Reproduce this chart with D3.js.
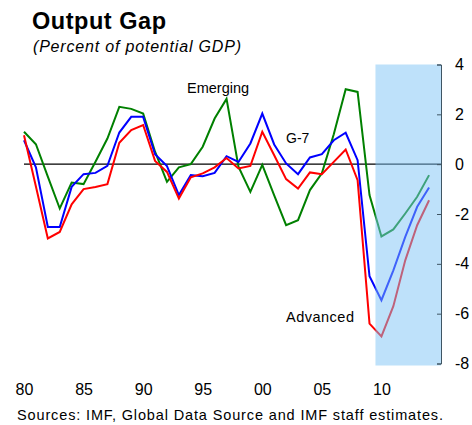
<!DOCTYPE html>
<html>
<head>
<meta charset="utf-8">
<script src="https://cdn.jsdelivr.net/npm/d3@7"></script>
<style>
  body { margin: 0; background: #fff; }
  text { font-family: "Liberation Sans", Arial, sans-serif; }
</style>
</head>
<body>
<script>
// years 1980-2014
const years = d3.range(1980, 2015);
const advanced = [1.16, -0.9, -2.98, -2.72, -1.61, -1.0, -0.92, -0.8, 0.86, 1.37,
  1.57, 0.13, -0.31, -1.38, -0.53, -0.37, -0.13, 0.25, -0.17, -0.07,
  1.3, 0.36, -0.6, -0.98, -0.33, -0.4, 0.09, 0.59, -0.64, -6.4,
  -6.91, -5.7, -3.86, -2.45, -1.45];
const g7 = [0.96, -0.13, -2.52, -2.52, -0.91, -0.4, -0.35, -0.07, 1.27, 1.9,
  1.9, 0.4, -0.08, -1.24, -0.44, -0.48, -0.35, 0.32, 0.09, 0.83,
  2.03, 0.79, 0.03, -0.4, 0.27, 0.4, 0.96, 1.26, 0.16, -4.5,
  -5.46, -4.26, -2.92, -1.71, -0.94];
const emerging = [1.3, 0.8, -0.5, -1.78, -0.74, -0.8, 0.1, 1.03, 2.3, 2.22,
  2.03, 0.5, -0.71, -0.13, 0.0, 0.7, 1.83, 2.62, -0.1, -1.11,
  -0.03, -1.25, -2.45, -2.25, -1.04, -0.37, 1.2, 3.01, 2.9, -1.24,
  -2.9, -2.62, -1.98, -1.31, -0.44];
const yTicks = [4, 2, 0, -2, -4, -6, -8];
const xTicks = [1980, 1985, 1990, 1995, 2000, 2005, 2010];
const xTickLabels = ["80", "85", "90", "95", "00", "05", "10"];
const forecastStart = 2009.5;

const width = 472, height = 425;

const svg = d3.select("body").append("svg")
    .attr("width", width)
    .attr("height", height);

const x = d3.scaleLinear().domain([1980, 2015]).range([24, 441]);
const y = d3.scaleLinear().domain([-8, 4]).range([363.5, 64.5]);

// titles
svg.append("text")
    .attr("x", 32).attr("y", 29)
    .attr("font-size", 23.5).attr("font-weight", "bold")
    .attr("textLength", 134).attr("lengthAdjust", "spacing")
    .text("Output Gap");
svg.append("text")
    .attr("x", 33).attr("y", 52)
    .attr("font-size", 16).attr("font-style", "italic")
    .attr("textLength", 208).attr("lengthAdjust", "spacing")
    .text("(Percent of potential GDP)");

// zero line
svg.append("line")
    .attr("x1", x(1980)).attr("x2", x(2015))
    .attr("y1", y(0)).attr("y2", y(0))
    .attr("stroke", "#000").attr("stroke-width", 1.3);

const series = [
  { name: "Emerging", values: emerging, color: "#008000" },
  { name: "G-7", values: g7, color: "#0000ff" },
  { name: "Advanced", values: advanced, color: "#ff0000" }
];

const line = d3.line()
    .x((d, i) => x(years[i]))
    .y(d => y(d));

svg.append("g").selectAll("path")
    .data(series)
    .join("path")
    .attr("d", d => line(d.values))
    .attr("fill", "none")
    .attr("stroke", d => d.color)
    .attr("stroke-width", 2);

// shaded projection area, drawn over the lines
svg.append("rect")
    .attr("x", x(forecastStart))
    .attr("y", y(4))
    .attr("width", x(2015) - x(forecastStart))
    .attr("height", y(-8) - y(4) + 2)
    .attr("fill", "#7dc3f5")
    .attr("fill-opacity", 0.5);

// right axis
const yAxis = svg.append("g")
    .attr("transform", `translate(${x(2015)},0)`)
    .call(d3.axisRight(y).tickValues(yTicks).tickSize(-4).tickPadding(14)
        .tickFormat(d => String(d)));
yAxis.select(".domain").attr("stroke", "#3f5563");
yAxis.selectAll(".tick line").attr("stroke", "#3f5563");
yAxis.selectAll("text")
    .attr("font-size", 16)
    .attr("font-family", "Liberation Sans, Arial, sans-serif")
    .attr("fill", "#000");

// bottom labels
const xAxis = svg.append("g")
    .attr("transform", "translate(0,380)")
    .call(d3.axisBottom(x).tickValues(xTicks).tickSize(0).tickPadding(0)
        .tickFormat((d, i) => xTickLabels[i]));
xAxis.select(".domain").remove();
xAxis.selectAll("text")
    .attr("dy", "15px")
    .attr("font-size", 16)
    .attr("font-family", "Liberation Sans, Arial, sans-serif")
    .attr("fill", "#000");

// series labels
svg.append("text").attr("x", 187).attr("y", 93)
    .attr("font-size", 14.5).text("Emerging");
svg.append("text").attr("x", 286).attr("y", 143)
    .attr("font-size", 14).text("G-7");
svg.append("text").attr("x", 286).attr("y", 322)
    .attr("font-size", 14.5).attr("textLength", 68).attr("lengthAdjust", "spacing")
    .text("Advanced");

// source
svg.append("text").attr("x", 17).attr("y", 420)
    .attr("font-size", 14.5).attr("textLength", 426).attr("lengthAdjust", "spacing")
    .text("Sources: IMF, Global Data Source and IMF staff estimates.");
</script>
</body>
</html>
